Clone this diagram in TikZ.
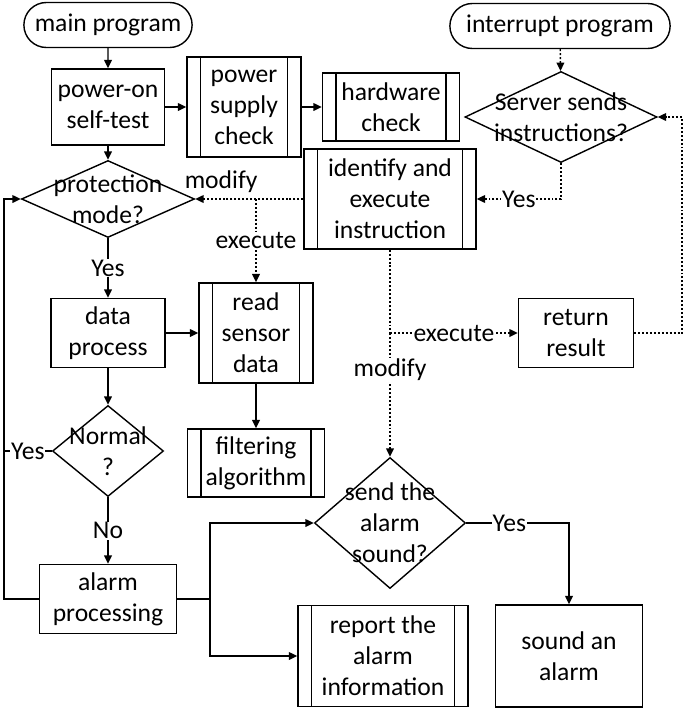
\documentclass[tikz,border=0pt]{standalone}
\usepackage{fontspec}
\setmainfont{Carlito}
\usetikzlibrary{arrows.meta, shapes.geometric, shapes.misc}

\begin{document}
\begin{tikzpicture}[x=0.025cm, y=-0.025cm, >={Triangle[length=6pt,width=5.5pt]},
        line width=1pt,
        every node/.style={font=\fontsize{18.2}{22}\selectfont, align=center, inner sep=1pt},
        term/.style={draw, rounded rectangle, minimum width=4.275cm, minimum height=1.125cm},
        proc/.style={draw, rectangle, minimum width=2.85cm, minimum height=1.725cm},
        subproc/.style={proc, path picture={
            \draw ([xshift=9.5pt]path picture bounding box.north west) -- ([xshift=9.5pt]path picture bounding box.south west);
            \draw ([xshift=-9.5pt]path picture bounding box.north east) -- ([xshift=-9.5pt]path picture bounding box.south east);}},
        decision/.style={draw, diamond, inner sep=0pt},
        lbl/.style={fill=white, inner sep=0.5pt},
        dots/.style={dash pattern=on 1.4pt off 1.4pt}]
      \useasboundingbox (0,0) rectangle (685,711);
      % main program
      \node[term] (mainp) at (108,25) {main program};
      \node[proc, minimum width=2.825cm, minimum height=1.9cm] (pwron) at (108,107) {power-on\\self-test};
      \node[subproc, minimum height=2.5cm] (psc) at (244,107) {power\\supply\\check};
      \node[subproc, minimum width=3.425cm, minimum height=1.7cm] (hwc) at (391,107) {hardware\\check};
      \node[decision, minimum width=4.325cm, minimum height=1.925cm] (prot) at (108,199) {};
      \node (protT) at (prot) {protection\\mode?};
      \node[proc] (dproc) at (108,333) {data\\process};
      \node[subproc, minimum height=2.5cm] (rsd) at (256,333) {read\\sensor\\data};
      \node[decision, minimum width=2.775cm, minimum height=2.275cm] (norm) at (108,451) {};
      \node (normT) at (norm) {Normal\\?};
      \node[subproc, minimum width=3.425cm, minimum height=1.7cm] (filt) at (256,463) {filtering\\algorithm};
      \node[proc, minimum width=3.425cm] (alarm) at (108,599) {alarm\\processing};
      \node[decision, minimum width=3.775cm, minimum height=3.275cm] (snd) at (390,523) {};
      \node (sndT) at (snd) {send the\\alarm\\sound?};
      \node[subproc, minimum width=4.25cm, minimum height=2.525cm] (rep) at (383,656) {report the\\alarm\\information};
      \node[proc, minimum width=3.675cm, minimum height=2.55cm] (sal) at (569,656) {sound an\\alarm};
      % interrupt program
      \node[term, minimum width=5.575cm] (intp) at (560,26) {interrupt program};
      \node[decision, minimum width=4.8cm, minimum height=2.275cm] (srv) at (561,117) {};
      \node (srvT) at (srv) {Server sends\\instructions?};
      \node[subproc, minimum width=4.3cm, minimum height=2.5cm] (ident) at (390,199) {identify and\\execute\\instruction};
      \node[proc, minimum width=2.875cm] (ret) at (576,333) {return\\result};
      \coordinate (exe) at (256,199);
      \coordinate (jn) at (390,333);
      \coordinate (rc) at (682,333);
      \coordinate (lb) at (4,599);
      \coordinate (sp) at (210,599);
      % solid lines
      \draw[->] (mainp) -- (pwron);
      \draw[->] (pwron) -- (psc);
      \draw[->] (psc) -- (hwc);
      \draw[->] (pwron) -- (prot);
      \draw[->] (prot) -- node[lbl] {Yes} (dproc);
      \draw[->] (dproc) -- (rsd);
      \draw[->] (dproc) -- (norm);
      \draw[->] (rsd) -- (filt);
      \draw[->] (norm) -- node[lbl] {No} (alarm);
      \draw (norm.west) -- node[lbl] {Yes} (norm.west -| lb);
      \draw[->] (alarm.west) -- (lb) |- (prot.west);
      \draw (alarm) -- (sp);
      \draw[->] (sp) |- (snd.west);
      \draw[->] (sp) |- (rep.west);
      \draw[->] (snd.east) -| node[lbl, pos=0.21] {Yes} (sal.north);
      % dotted lines
      \draw[->, dots] (intp) -- (srv);
      \draw[->, dots] (srv.south) |- node[lbl, pos=0.75] {Yes} (ident.east);
      \draw[->, dots] (ident.west) -- node[above=3pt, pos=0.76] {modify} (prot.east);
      \draw[->, dots] (exe) -- node[lbl] {execute} (rsd);
      \draw[dots] (ident) -- (jn);
      \draw[->, dots] (jn) -- node[lbl] {execute} (ret);
      \draw[->, dots] (jn) -- node[lbl, pos=0.3] {modify} (snd);
      \draw[->, dots] (ret) -- (rc) |- (srv.east);
    \end{tikzpicture}
\end{document}
